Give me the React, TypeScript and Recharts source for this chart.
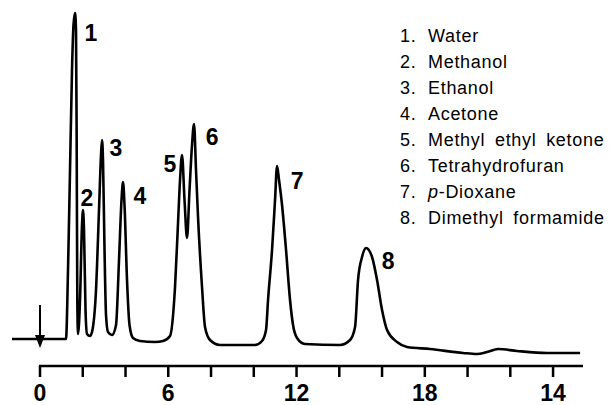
import { LineChart, Line, XAxis, YAxis, ReferenceLine, ReferenceDot } from 'recharts'

// retention time (min) and detector signal (arbitrary units, baseline = 0)
const TIMES = [
  -1.31, 1.216, 1.31, 1.404, 1.497, 1.567, 1.637, 1.684, 1.717, 1.745, 1.778,
  1.871, 1.965, 2.012, 2.058, 2.129, 2.199, 2.339,
  2.433, 2.62, 2.76, 2.854, 2.901, 2.947, 3.018, 3.088, 3.181, 3.368,
  3.556, 3.696, 3.813, 3.883, 3.953, 4.07, 4.187, 4.351, 4.678, 5.38, 5.754,
  6.082, 6.316, 6.456, 6.55, 6.643, 6.76, 6.877, 6.994, 7.111, 7.205, 7.298, 7.392, 7.579, 7.719, 7.953,
  8.421, 10.058, 10.386, 10.573, 10.667, 10.854, 10.994, 11.088, 11.181, 11.322, 11.509, 11.696, 11.836, 12.023, 12.398,
  14.035, 14.503, 14.737, 14.877, 15.064, 15.251, 15.532, 15.766, 16.0, 16.234, 16.702, 17.17,
  18.246, 19.789, 20.444, 20.912, 21.427, 22.316, 23.719, 25.263,
]
const SIGNAL = [
  0, 0, 69, 169, 269, 314, 326, 309, 189, 39, 5,
  39, 114, 129, 109, 29, 5, 3,
  7, 49, 129, 184, 199, 179, 89, 24, 7, 4,
  14, 79, 139, 157, 134, 59, 14, 1, -2, -3, -2,
  3, 52, 116, 159, 184, 139, 101, 149, 194, 215, 169, 122, 52, 12, -1,
  -6, -6, -2, 9, 39, 89, 139, 173, 159, 134, 89, 39, 14, 1, -5,
  -6, -1, 12, 59, 82, 91, 82, 59, 29, 9, -3, -8,
  -10, -14, -15, -13, -10, -12, -14, -14,
]

const PEAK_IDS = ['1', '2', '3', '4', '5', '6', '7', '8']
const PEAK_TIMES = [1.637, 2.012, 2.901, 3.883, 6.643, 7.205, 11.088, 15.251]
const PEAK_HEIGHTS = [326, 129, 199, 157, 184, 215, 173, 91]
// label offset from the apex, px
const LABEL_OFFSETS = [[16, 20], [4, -12], [14, 8], [17, 14], [-12, 9], [18, 13], [20, 15], [22, 13]]

const COMPOUNDS = [
  'Water',
  'Methanol',
  'Ethanol',
  'Acetone',
  'Methyl ethyl ketone',
  'Tetrahydrofuran',
  'p-Dioxane',
  'Dimethyl formamide',
]

const TICKS = [0, 2, 4, 6, 8, 10, 12, 14, 16, 18, 20, 22, 24]
const TICK_LABELS = ['0', '', '', '6', '', '', '12', '', '', '18', '', '', '14']

const INJECTION_TIME = 0

const data = TIMES.map((t, i) => ({ t, v: SIGNAL[i] }))

const FONT = '"Liberation Sans", Arial, Helvetica, sans-serif'
const INK = '#000'

const X_DOMAIN = [-1.31, 25.4]
const Y_DOMAIN = [-27, 339]

export default function App() {
  return (
    <div style={{ position: 'absolute', left: 0, top: 0, width: 613, height: 405, background: '#fff', fontFamily: FONT }}>
      <LineChart width={613} height={405} data={data} margin={{ top: 0, right: 30, bottom: 0, left: 12 }}>
        <XAxis
          dataKey="t"
          type="number"
          domain={X_DOMAIN}
          allowDataOverflow
          ticks={TICKS}
          interval={0}
          tickFormatter={(v) => TICK_LABELS[TICKS.indexOf(v)] ?? ''}
          axisLine={false}
          tickLine={{ stroke: INK, strokeWidth: 2.5 }}
          tickSize={11}
          tickMargin={8}
          height={39}
          tick={{ fill: INK, fontSize: 23, fontWeight: 700, fontFamily: FONT }}
        />
        <YAxis hide domain={Y_DOMAIN} allowDataOverflow />
        <ReferenceLine
          segment={[{ x: -0.05, y: Y_DOMAIN[0] }, { x: 25.4, y: Y_DOMAIN[0] }]}
          stroke={INK}
          strokeWidth={2.5}
          ifOverflow="visible"
        />
        <ReferenceLine
          segment={[{ x: INJECTION_TIME, y: 34 }, { x: INJECTION_TIME, y: -9 }]}
          ifOverflow="visible"
          shape={(p: any) => (
            <g>
              <line x1={p.x1} y1={p.y1} x2={p.x2} y2={p.y2 - 8} stroke={INK} strokeWidth={2} />
              <polygon
                points={`${p.x2 - 5},${p.y2 - 13} ${p.x2 + 5},${p.y2 - 13} ${p.x2},${p.y2}`}
                fill={INK}
              />
            </g>
          )}
        />
        <Line
          type="monotone"
          dataKey="v"
          stroke={INK}
          strokeWidth={2.6}
          dot={false}
          isAnimationActive={false}
        />
        {PEAK_IDS.map((id, i) => (
          <ReferenceDot
            key={id}
            x={PEAK_TIMES[i]}
            y={PEAK_HEIGHTS[i]}
            r={0}
            ifOverflow="visible"
            shape={(p: any) => (
              <text
                x={p.cx + LABEL_OFFSETS[i][0]}
                y={p.cy + LABEL_OFFSETS[i][1]}
                textAnchor="middle"
                dominantBaseline="central"
                fontSize={23}
                fontWeight={700}
                fontFamily={FONT}
                fill={INK}
              >
                {id}
              </text>
            )}
          />
        ))}
      </LineChart>
      <div style={{ position: 'absolute', left: 400, top: 23, color: INK, fontSize: 18, lineHeight: '26px', letterSpacing: 0.7 }}>
        {COMPOUNDS.map((name, i) => (
          <div key={name} style={{ display: 'flex', whiteSpace: 'pre' }}>
            <span style={{ width: 28 }}>{i + 1}.</span>
            <span style={{ wordSpacing: 4 }}>
              {name.startsWith('p-') ? (
                <>
                  <i>p</i>
                  {name.slice(1)}
                </>
              ) : (
                name
              )}
            </span>
          </div>
        ))}
      </div>
    </div>
  )
}
